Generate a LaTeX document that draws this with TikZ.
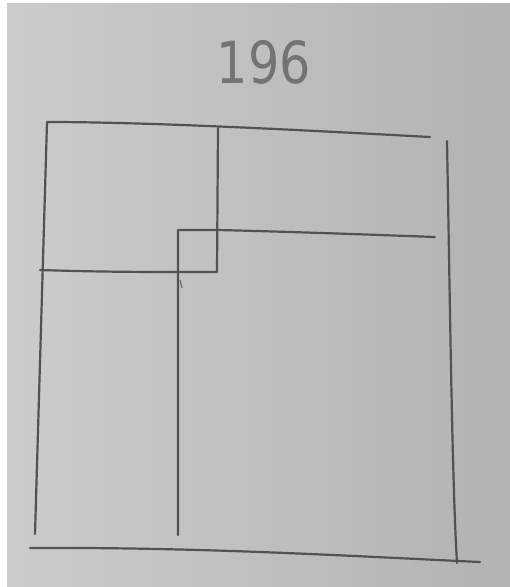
\documentclass[tikz,border=0pt]{standalone}
\usepackage{fontspec}
\setmainfont{DejaVu Sans}
\begin{document}
\begin{tikzpicture}[x=1pt,y=-1pt,
  pen/.style={draw=black!68, line width=2.2pt, line cap=round, line join=round},
  title/.style={text=black!55, font=\fontsize{58}{60}\selectfont\fontseries{l}, inner sep=0pt}]
\useasboundingbox (0,0) rectangle (510,587);
\shade[left color=white!80!black, right color=white!70!black] (0,0) rectangle (510,587);
\fill[white] (0,0) rectangle (7,587);
\fill[white] (0,0) rectangle (510,3);
% title
\node[title, xscale=0.85] (t) at (264,62) {196};
% points
\coordinate (tl) at (47,122);
\coordinate (tr) at (430,137);
\coordinate (rt) at (447,141);
\coordinate (rb) at (457,563);
\coordinate (lb) at (35,534);
\coordinate (bl) at (30,548);
\coordinate (br) at (480,562);
\coordinate (v1t) at (218,128);
\coordinate (sq1) at (217,272);
\coordinate (sq0) at (178,230);
\coordinate (sqb) at (178,272);
\coordinate (hl) at (40,270);
\coordinate (hr) at (435,237);
\coordinate (v2b) at (178,535);
% outer
\draw[pen] (tr) .. controls (300,130) and (150,122) .. (tl) -- (lb);
\draw[pen] (rt) .. controls (450,300) and (452,480) .. (rb);
\draw[pen] (bl) .. controls (200,547) and (350,556) .. (br);
% inner
\draw[pen] (v1t) -- (sq1) -- (sqb);
\draw[pen] (hl) .. controls (100,272) and (150,272) .. (sqb);
\draw[pen] (v2b) -- (sq0) -- (218,230) .. controls (300,232) and (380,235) .. (hr);
\draw[black!60, line width=1.2pt] (180,280) -- (182,288);
\end{tikzpicture}
\end{document}
